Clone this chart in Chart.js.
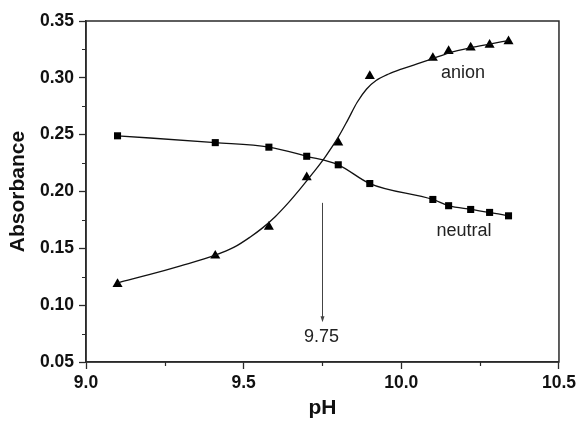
<!DOCTYPE html>
<html>
<head>
<meta charset="utf-8">
<script src="https://cdn.jsdelivr.net/npm/chart.js@4/dist/chart.umd.min.js"></script>
<style>
  html, body { margin: 0; padding: 0; background: #ffffff; }
  #wrap { width: 580px; height: 423px; }
</style>
</head>
<body>
<div id="wrap"><canvas id="c" width="580" height="423"></canvas></div>
<script>
// Measured absorbance of the two species versus pH
const phValues   = [9.10, 9.41, 9.58, 9.70, 9.80, 9.90, 10.10, 10.15, 10.22, 10.28, 10.34];
const absNeutral = [0.249, 0.243, 0.239, 0.231, 0.2235, 0.207, 0.193, 0.1875, 0.1842, 0.1816, 0.1786];
const absAnion   = [0.1185, 0.1435, 0.169, 0.2125, 0.243, 0.3015, 0.3175, 0.3235, 0.3267, 0.329, 0.3322];

// Sigmoidal fit drawn through the anion data
const phAnionFit  = [9.10, 9.20, 9.30, 9.41, 9.47, 9.52, 9.56, 9.60, 9.64, 9.68, 9.72, 9.76, 9.80, 9.83, 9.86, 9.89, 9.92, 9.96, 10.00, 10.05, 10.10, 10.15, 10.22, 10.28, 10.34];
const absAnionFit = [0.1196, 0.1268, 0.1346, 0.1440, 0.1510, 0.1598, 0.1680, 0.1778, 0.1895, 0.2025, 0.2163, 0.2310, 0.2478, 0.2628, 0.2785, 0.2902, 0.2976, 0.3034, 0.3076, 0.3122, 0.3170, 0.3218, 0.3265, 0.3297, 0.3328];

// Axis ticks
const xTicks = [9.0, 9.5, 10.0, 10.5];
const yTicks = [0.05, 0.10, 0.15, 0.20, 0.25, 0.30, 0.35];

// Inflection point marker
const pKa = 9.75;
const arrowFrom = 0.190;
const arrowTo = 0.085;

// Curve labels
const curveLabels = [
  { text: 'anion',   x: 10.196, y: 0.3045 },
  { text: 'neutral', x: 10.199, y: 0.1650 }
];

const FONT = '"Liberation Sans", Arial, Helvetica, sans-serif';
const AXIS_COLOR = '#2a2a2a';

const toXY = (xs, ys) => xs.map((x, i) => ({ x: x, y: ys[i] }));

// Frame, minor ticks, arrow and text annotations
const decorations = {
  id: 'decorations',
  afterDraw(chart) {
    const ctx = chart.ctx;
    const a = chart.chartArea;
    const xs = chart.scales.x, ys = chart.scales.y;
    ctx.save();

    // box around the plotting area
    ctx.strokeStyle = AXIS_COLOR;
    ctx.lineWidth = 1.5;
    ctx.strokeRect(a.left, a.top, a.right - a.left, a.bottom - a.top);

    // minor ticks halfway between labelled ticks
    ctx.lineWidth = 1.2;
    ctx.beginPath();
    for (let i = 0; i < xTicks.length - 1; i++) {
      const px = Math.round(xs.getPixelForValue((xTicks[i] + xTicks[i + 1]) / 2)) + 0.5;
      ctx.moveTo(px, a.bottom);
      ctx.lineTo(px, a.bottom + 4);
    }
    for (let i = 0; i < yTicks.length - 1; i++) {
      const py = Math.round(ys.getPixelForValue((yTicks[i] + yTicks[i + 1]) / 2)) + 0.5;
      ctx.moveTo(a.left, py);
      ctx.lineTo(a.left - 4, py);
    }
    ctx.stroke();

    // vertical arrow at the inflection point
    const ax = Math.round(xs.getPixelForValue(pKa)) + 0.5;
    const ay0 = ys.getPixelForValue(arrowFrom);
    const ay1 = ys.getPixelForValue(arrowTo);
    ctx.strokeStyle = '#444';
    ctx.lineWidth = 1;
    ctx.beginPath();
    ctx.moveTo(ax, ay0);
    ctx.lineTo(ax, ay1 - 4);
    ctx.stroke();
    ctx.fillStyle = '#444';
    ctx.beginPath();
    ctx.moveTo(ax, ay1);
    ctx.lineTo(ax - 2, ay1 - 6);
    ctx.lineTo(ax + 2, ay1 - 6);
    ctx.closePath();
    ctx.fill();

    ctx.fillStyle = '#222';
    ctx.font = '18px ' + FONT;
    ctx.textAlign = 'center';
    ctx.textBaseline = 'middle';
    ctx.fillText(pKa.toFixed(2), ax - 1, ay1 + 15);

    curveLabels.forEach(l => {
      ctx.fillText(l.text, xs.getPixelForValue(l.x), ys.getPixelForValue(l.y));
    });

    ctx.restore();
  }
};

new Chart(document.getElementById('c'), {
  type: 'scatter',
  data: {
    datasets: [
      {
        label: 'neutral',
        data: toXY(phValues, absNeutral),
        showLine: true,
        cubicInterpolationMode: 'monotone',
        borderColor: '#111',
        borderWidth: 1.3,
        pointStyle: 'rect',
        pointRadius: 5,
        pointBackgroundColor: '#000',
        pointBorderColor: '#000',
        pointBorderWidth: 0
      },
      {
        label: 'anion fit',
        data: toXY(phAnionFit, absAnionFit),
        showLine: true,
        cubicInterpolationMode: 'monotone',
        borderColor: '#111',
        borderWidth: 1.3,
        pointRadius: 0
      },
      {
        label: 'anion',
        data: toXY(phValues, absAnion),
        showLine: false,
        pointStyle: 'triangle',
        pointRadius: 5.8,
        pointBackgroundColor: '#000',
        pointBorderColor: '#000',
        pointBorderWidth: 0
      }
    ]
  },
  options: {
    responsive: false,
    devicePixelRatio: 1,
    animation: false,
    events: [],
    layout: { padding: { top: 21, right: 21, left: 0, bottom: 0 } },
    plugins: {
      legend: { display: false },
      tooltip: { enabled: false }
    },
    scales: {
      x: {
        type: 'linear',
        min: xTicks[0],
        max: xTicks[xTicks.length - 1],
        afterBuildTicks(scale) { scale.ticks = xTicks.map(v => ({ value: v })); },
        afterFit(scale) { scale.height = 61; },
        ticks: {
          color: '#111',
          padding: 4,
          maxRotation: 0,
          font: { family: FONT, size: 17.5, weight: 'bold' },
          callback: v => v.toFixed(1)
        },
        grid: { drawOnChartArea: false, drawTicks: true, tickLength: 7, tickColor: AXIS_COLOR, tickWidth: 1.3 },
        border: { display: true, color: AXIS_COLOR, width: 1.5 },
        title: {
          display: true,
          text: 'pH',
          color: '#111',
          font: { family: FONT, size: 21, weight: 'bold' },
          padding: { top: 0, bottom: 2 }
        }
      },
      y: {
        type: 'linear',
        min: yTicks[0],
        max: yTicks[yTicks.length - 1],
        afterBuildTicks(scale) { scale.ticks = yTicks.map(v => ({ value: v })); },
        afterFit(scale) { scale.width = 86; },
        ticks: {
          color: '#111',
          padding: 5,
          font: { family: FONT, size: 17.5, weight: 'bold' },
          callback: v => v.toFixed(2)
        },
        grid: { drawOnChartArea: false, drawTicks: true, tickLength: 7, tickColor: AXIS_COLOR, tickWidth: 1.3 },
        border: { display: true, color: AXIS_COLOR, width: 1.5 },
        title: {
          display: true,
          text: 'Absorbance',
          color: '#111',
          font: { family: FONT, size: 21, weight: 'bold' },
          padding: { top: 6, bottom: 0 }
        }
      }
    }
  },
  plugins: [decorations]
});
</script>
</body>
</html>
